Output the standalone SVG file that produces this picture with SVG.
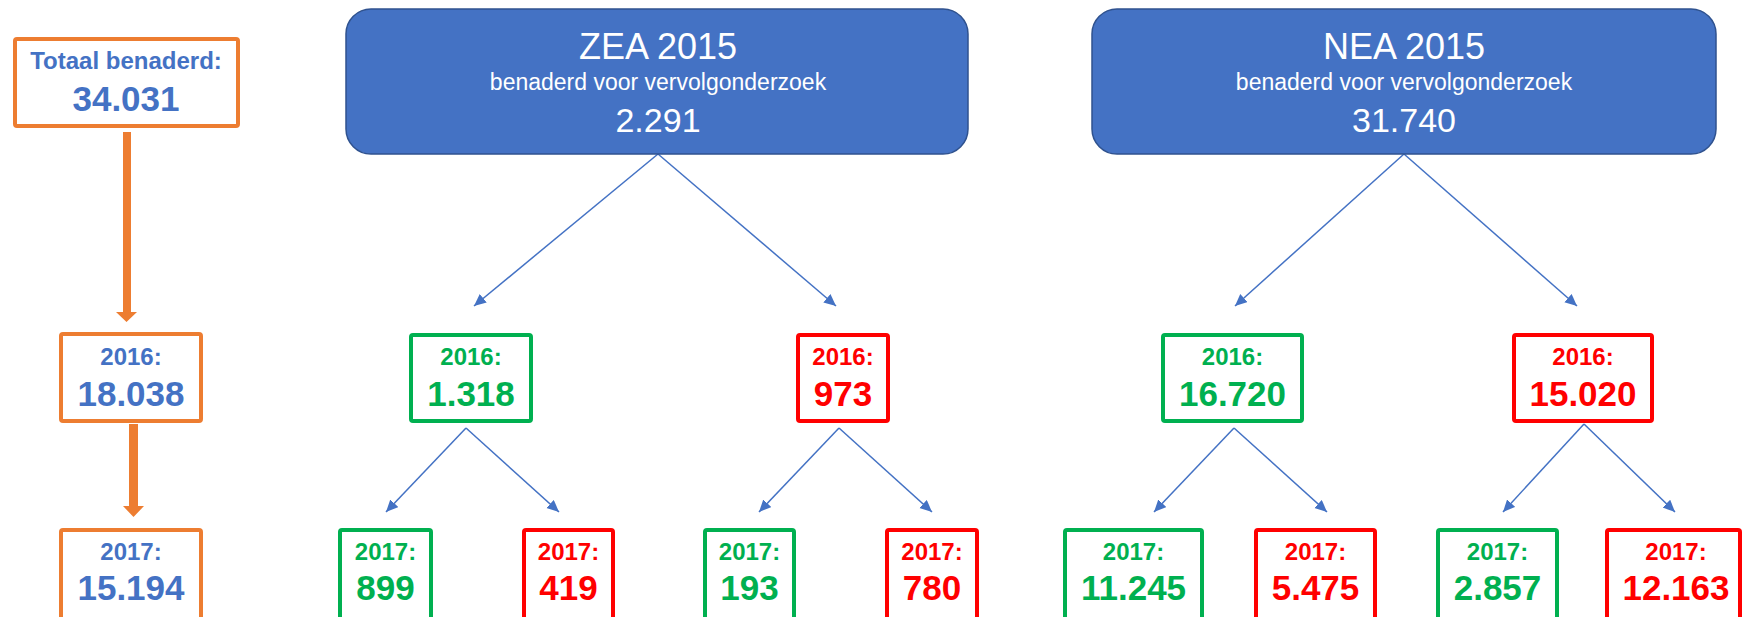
<svg xmlns="http://www.w3.org/2000/svg" width="1744" height="617" viewBox="0 0 1744 617">
<style>
.bg{fill:#FFFFFF}
.big{fill:#4472C4;stroke:#2F528F;stroke-width:1.5}
.wt{fill:#FFFFFF;font-family:"Liberation Sans",Arial,sans-serif;text-anchor:middle}
.ob{fill:#FFFFFF;stroke:#ED7D31;stroke-width:4}
.gb{fill:#FFFFFF;stroke:#00B050;stroke-width:4}
.rb{fill:#FFFFFF;stroke:#FF0000;stroke-width:4}
.t{font-family:"Liberation Sans",Arial,sans-serif;font-weight:bold;text-anchor:middle}
.bt{fill:#4472C4}
.gt{fill:#00B050}
.rt{fill:#FF0000}
.s{font-size:24px}
.l{font-size:35px}
.con{stroke:#4472C4;stroke-width:1.5;fill:none;marker-end:url(#ah)}
.oa{fill:#ED7D31}
</style>
<defs>
<marker id="ah" markerUnits="userSpaceOnUse" markerWidth="14" markerHeight="12" refX="12" refY="5.5" orient="auto">
<path d="M0,0 L12,5.5 L0,11 Z" fill="#4472C4"/>
</marker>
</defs>
<rect class="bg" x="0" y="0" width="1744" height="617"/>

<g id="connectors">
<path class="con" d="M658,154 L474,306"/>
<path class="con" d="M658,154 L836,306"/>
<path class="con" d="M1404,154 L1235,306"/>
<path class="con" d="M1404,154 L1577,306"/>
<path class="con" d="M466,428 L386,512"/>
<path class="con" d="M466,428 L559,512"/>
<path class="con" d="M839,428 L759,512"/>
<path class="con" d="M839,428 L932,512"/>
<path class="con" d="M1234,428 L1154,512"/>
<path class="con" d="M1234,428 L1327,512"/>
<path class="con" d="M1584,424 L1503,512"/>
<path class="con" d="M1584,424 L1675,512"/>
<path class="oa" d="M123,132 L131,132 L131,312 L137,312 L126.5,322 L116,312 L123,312 Z"/>
<path class="oa" d="M129,424 L138,424 L138,506 L144,506 L133.5,517 L123,506 L129,506 Z"/>
</g>

<g id="zea2015">
<rect class="big" x="346" y="9" width="622" height="145" rx="25" ry="25"/>
<text class="wt" x="658" y="59" font-size="36">ZEA 2015</text>
<text class="wt" x="658" y="90" font-size="23">benaderd voor vervolgonderzoek</text>
<text class="wt" x="658" y="132" font-size="34">2.291</text>
</g>
<g id="nea2015">
<rect class="big" x="1092" y="9" width="624" height="145" rx="25" ry="25"/>
<text class="wt" x="1404" y="59" font-size="36">NEA 2015</text>
<text class="wt" x="1404" y="90" font-size="23">benaderd voor vervolgonderzoek</text>
<text class="wt" x="1404" y="132" font-size="34">31.740</text>
</g>

<g id="totaal">
<rect class="ob" x="15" y="39" width="223" height="87" rx="2"/>
<text class="t bt s" x="126" y="69">Totaal benaderd:</text>
<text class="t bt l" x="126" y="111">34.031</text>
</g>
<g id="totaal2016">
<rect class="ob" x="61" y="334" width="140" height="87" rx="2"/>
<text class="t bt s" x="131" y="365">2016:</text>
<text class="t bt l" x="131" y="406">18.038</text>
</g>
<g id="totaal2017">
<rect class="ob" x="61" y="530" width="140" height="100" rx="2"/>
<text class="t bt s" x="131" y="560">2017:</text>
<text class="t bt l" x="131" y="600">15.194</text>
</g>

<g id="zea2016g">
<rect class="gb" x="411" y="335" width="120" height="86" rx="2"/>
<text class="t gt s" x="471" y="365">2016:</text>
<text class="t gt l" x="471" y="406">1.318</text>
</g>
<g id="zea2016r">
<rect class="rb" x="798" y="335" width="90" height="86" rx="2"/>
<text class="t rt s" x="843" y="365">2016:</text>
<text class="t rt l" x="843" y="406">973</text>
</g>
<g id="nea2016g">
<rect class="gb" x="1163" y="335" width="139" height="86" rx="2"/>
<text class="t gt s" x="1232.5" y="365">2016:</text>
<text class="t gt l" x="1232.5" y="406">16.720</text>
</g>
<g id="nea2016r">
<rect class="rb" x="1514" y="335" width="138" height="86" rx="2"/>
<text class="t rt s" x="1583" y="365">2016:</text>
<text class="t rt l" x="1583" y="406">15.020</text>
</g>

<g id="zea2017gg">
<rect class="gb" x="340" y="530" width="91" height="100" rx="2"/>
<text class="t gt s" x="385.5" y="560">2017:</text>
<text class="t gt l" x="385.5" y="600">899</text>
</g>
<g id="zea2017gr">
<rect class="rb" x="524" y="530" width="89" height="100" rx="2"/>
<text class="t rt s" x="568.5" y="560">2017:</text>
<text class="t rt l" x="568.5" y="600">419</text>
</g>
<g id="zea2017rg">
<rect class="gb" x="705" y="530" width="89" height="100" rx="2"/>
<text class="t gt s" x="749.5" y="560">2017:</text>
<text class="t gt l" x="749.5" y="600">193</text>
</g>
<g id="zea2017rr">
<rect class="rb" x="887" y="530" width="90" height="100" rx="2"/>
<text class="t rt s" x="932" y="560">2017:</text>
<text class="t rt l" x="932" y="600">780</text>
</g>
<g id="nea2017gg">
<rect class="gb" x="1065" y="530" width="137" height="100" rx="2"/>
<text class="t gt s" x="1133.5" y="560">2017:</text>
<text class="t gt l" x="1133.5" y="600">11.245</text>
</g>
<g id="nea2017gr">
<rect class="rb" x="1256" y="530" width="119" height="100" rx="2"/>
<text class="t rt s" x="1315.5" y="560">2017:</text>
<text class="t rt l" x="1315.5" y="600">5.475</text>
</g>
<g id="nea2017rg">
<rect class="gb" x="1438" y="530" width="119" height="100" rx="2"/>
<text class="t gt s" x="1497.5" y="560">2017:</text>
<text class="t gt l" x="1497.5" y="600">2.857</text>
</g>
<g id="nea2017rr">
<rect class="rb" x="1607" y="530" width="133" height="100" rx="2"/>
<text class="t rt s" x="1676" y="560">2017:</text>
<text class="t rt l" x="1676" y="600">12.163</text>
</g>
</svg>
